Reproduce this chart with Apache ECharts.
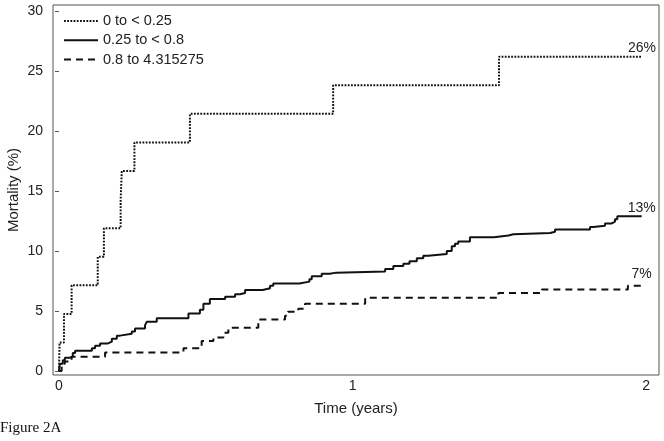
<!DOCTYPE html>
<html>
<head>
<meta charset="utf-8">
<script src="https://cdn.jsdelivr.net/npm/echarts@6/dist/echarts.min.js"></script>
<style>
  html, body { margin: 0; padding: 0; background: #fff; }
  #chart { width: 664px; height: 441px; }
</style>
</head>
<body>
<div id="chart"></div>
<script>
// groups (legend order)
var groupNames = ['0 to < 0.25', '0.25 to < 0.8', '0.8 to 4.315275'];
var endLabels = ['26%', '13%', '7%'];
var yTicks = [0, 5, 10, 15, 20, 25, 30];
var xTicks = [0, 1, 2];

// cumulative mortality (%) by time (years)
var lowTime = [0, 0.002, 0.017, 0.043, 0.132, 0.153, 0.210, 0.214, 0.257, 0.446, 0.934, 1.499, 1.986];
var lowMort = [0, 2.38, 4.76, 7.14, 9.52, 11.9, 14.29, 16.67, 19.05, 21.43, 23.81, 26.19, 26.19];

var midTime = [0, 0.003, 0.013, 0.020, 0.037, 0.047, 0.055, 0.112, 0.123, 0.140, 0.167, 0.180, 0.197, 0.208,
    0.248, 0.259, 0.293, 0.299, 0.333, 0.441, 0.480, 0.492, 0.514, 0.566, 0.600, 0.617, 0.634, 0.694, 0.719,
    0.730, 0.819, 0.853, 0.861, 0.895, 0.923, 0.944, 1.111, 1.139, 1.173, 1.194, 1.219, 1.241, 1.258, 1.321,
    1.338, 1.349, 1.360, 1.400, 1.482, 1.531, 1.548, 1.673, 1.690, 1.809, 1.820, 1.860, 1.883, 1.894, 1.902, 1.985];
var midMort = [0, 0.6, 0.9, 1.1, 1.25, 1.5, 1.7, 1.9, 2.1, 2.3, 2.45, 2.7, 2.95, 3.1,
    3.3, 3.55, 3.8, 4.1, 4.4, 4.8, 5.1, 5.6, 6.0, 6.2, 6.4, 6.5, 6.75, 6.9, 7.1,
    7.3, 7.45, 7.65, 7.9, 8.1, 8.2, 8.3, 8.5, 8.75, 8.95, 9.15, 9.4, 9.6, 9.75, 10.0,
    10.4, 10.6, 10.8, 11.15, 11.3, 11.4, 11.5, 11.6, 11.8, 12.0, 12.1, 12.3, 12.45, 12.65, 12.9, 12.9];

var highTime = [0, 0.009, 0.020, 0.043, 0.157, 0.424, 0.486, 0.526, 0.560, 0.577, 0.679, 0.770, 0.780,
    0.815, 0.838, 1.043, 1.497, 1.645, 1.938, 1.985];
var highMort = [0, 0.6, 0.8, 1.2, 1.55, 1.9, 2.5, 2.8, 3.2, 3.6, 4.3, 4.6, 4.95,
    5.2, 5.6, 6.1, 6.5, 6.8, 7.1, 7.35];

var font = 'Liberation Sans, Arial, sans-serif';
var lineTypes = [[1.8, 1.4], 'solid', [7, 5]];

function pairs(t, v, label) {
    return t.map(function (x, i) {
        var p = { value: [x, v[i]] };
        if (i === t.length - 1) {
            // invisible point just to carry the end label
            p.symbol = 'circle';
            p.symbolSize = 1;
            p.itemStyle = { color: 'transparent' };
            p.label = {
                show: true, formatter: label, position: 'top', distance: 1,
                color: '#222', fontSize: 14, fontFamily: font
            };
        }
        return p;
    });
}

var series = [
    { name: groupNames[0], data: pairs(lowTime, lowMort, endLabels[0]) },
    { name: groupNames[1], data: pairs(midTime, midMort, endLabels[1]) },
    { name: groupNames[2], data: pairs(highTime, highMort, endLabels[2]) }
].map(function (s, i) {
    s.type = 'line';
    s.step = 'end';
    s.symbol = 'none';
    s.showSymbol = true;
    s.animation = false;
    s.lineStyle = { color: '#111', width: 2, type: lineTypes[i] };
    s.itemStyle = { color: '#111' };
    return s;
});

var chart = echarts.init(document.getElementById('chart'));
chart.setOption({
    backgroundColor: '#fff',
    animation: false,
    title: {
        text: 'Figure 2A',
        left: 0, top: 421, padding: 0,
        textStyle: { fontFamily: 'Liberation Serif, Times New Roman, serif', fontSize: 15, fontWeight: 'normal', color: '#111' }
    },
    legend: {
        orient: 'vertical',
        left: 63, top: 13.5, padding: 0,
        itemWidth: 34, itemHeight: 14, itemGap: 4.3,
        itemStyle: { opacity: 0 },
        data: groupNames,
        textStyle: { fontFamily: font, fontSize: 14.5, color: '#222' }
    },
    grid: {
        left: 53, right: 5, top: 5, bottom: 66,
        outerBoundsMode: 'none',
        show: true, borderColor: '#555', borderWidth: 1
    },
    xAxis: {
        type: 'value',
        min: -0.0204, max: 2.044,
        name: 'Time (years)', nameLocation: 'middle', nameGap: 26,
        nameMoveOverlap: false,
        nameTextStyle: { fontFamily: font, fontSize: 15, color: '#222' },
        axisLine: { show: false },
        axisTick: { show: false },
        splitLine: { show: false },
        axisLabel: {
            customValues: xTicks, margin: 4,
            fontFamily: font, fontSize: 14, color: '#222'
        }
    },
    yAxis: {
        type: 'value',
        min: -0.33, max: 30.5,
        name: 'Mortality (%)', nameLocation: 'middle', nameGap: 32,
        nameMoveOverlap: false,
        nameTextStyle: { fontFamily: font, fontSize: 15, color: '#222' },
        axisLine: { show: false },
        axisTick: { show: true, customValues: yTicks, length: 4, lineStyle: { color: '#555' } },
        splitLine: { show: false },
        axisLabel: {
            customValues: yTicks, margin: 10,
            fontFamily: font, fontSize: 14, color: '#222'
        }
    },
    series: series
});
</script>
</body>
</html>
